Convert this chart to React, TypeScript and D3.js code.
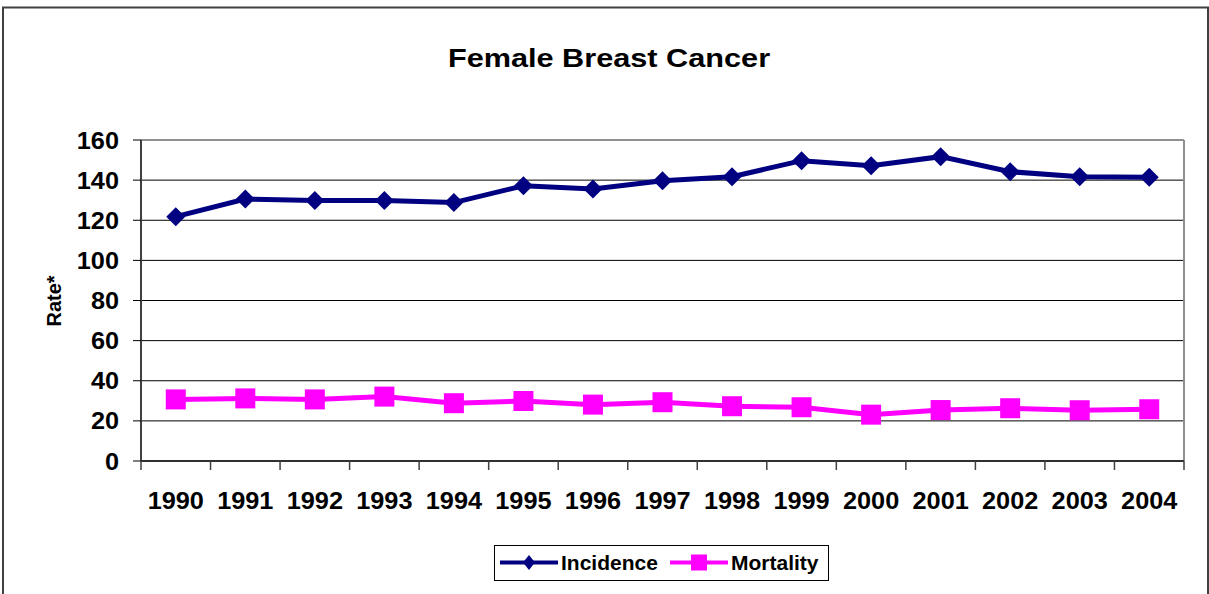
import React from "react";
import * as d3 from "d3";

const years = ["1990","1991","1992","1993","1994","1995","1996","1997","1998","1999","2000","2001","2002","2003","2004"];
const incidence = [121.8,130.6,129.8,129.8,128.8,137.2,135.6,139.7,141.7,149.7,147.2,151.7,144.2,141.7,141.4];
const mortality = [30.7,31.2,30.7,32.1,28.8,29.9,28.1,29.3,27.3,26.8,23.1,25.4,26.3,25.3,25.8];
const yTicks = [0,20,40,60,80,100,120,140,160];
const seriesNames = ["Incidence","Mortality"];
const title = "Female Breast Cancer";
const yLabel = "Rate*";

const FONT = "Arial, 'Liberation Sans', sans-serif";

function SText({ x, y, sx = 1, anchor = "start", size, children, rotate = 0 }: any) {
  return (
    <g transform={`translate(${x},${y}) rotate(${rotate}) scale(${sx},1)`}>
      <text x={0} y={0} textAnchor={anchor} fontFamily={FONT} fontWeight="bold" fontSize={size} fill="#000">
        {children}
      </text>
    </g>
  );
}

export default function App() {
  const L = 141, R = 1184, T = 140, B = 461;
  const x = d3.scaleBand<string>().domain(years).range([L, R]);
  const y = d3.scaleLinear().domain([0, 160]).range([B, T]);
  const cx = (yr: string) => (x(yr) as number) + x.bandwidth() / 2;
  const line = d3.line<number>().x((_, i) => cx(years[i])).y((v) => y(v));
  const boundaries = years.map((yr) => x(yr) as number).concat([R]);

  return (
    <svg width={1209} height={594} style={{ position: "absolute", left: 0, top: 0, background: "#fff" }}>
      <rect x={0} y={0} width={1209} height={594} fill="#fff" />
      <rect x={3} y={7.5} width={1205} height={600} fill="none" stroke="#404040" strokeWidth={2} />
      <SText x={609} y={67} anchor="middle" size={26} sx={1.18}>{title}</SText>

      {/* gridlines */}
      {yTicks.filter((t) => t > 0 && t < 160).map((t) => (
        <line key={t} x1={L} x2={R} y1={y(t)} y2={y(t)} stroke="#000" strokeWidth={1} />
      ))}
      {/* plot border */}
      <line x1={L} x2={R} y1={T} y2={T} stroke="#909090" strokeWidth={2} />
      <line x1={R} x2={R} y1={T} y2={B} stroke="#909090" strokeWidth={2} />
      <line x1={L} x2={L} y1={T} y2={B} stroke="#404040" strokeWidth={2} />
      <line x1={L} x2={R} y1={B} y2={B} stroke="#303030" strokeWidth={2} />

      {/* y ticks */}
      {yTicks.map((t) => (
        <g key={t}>
          <line x1={133} x2={L} y1={y(t)} y2={y(t)} stroke="#000" strokeWidth={1} />
          <SText x={119} y={y(t) + 8.5} anchor="end" size={23} sx={1.1}>{t}</SText>
        </g>
      ))}
      {/* x ticks */}
      {boundaries.map((bx, i) => (
        <line key={i} x1={bx} x2={bx} y1={B} y2={B + 9} stroke="#404040" strokeWidth={1.5} />
      ))}
      {years.map((yr) => (
        <SText key={yr} x={cx(yr)} y={509} anchor="middle" size={23} sx={1.1}>{yr}</SText>
      ))}
      <SText x={61} y={301} anchor="middle" size={20} sx={1} rotate={-90}>{yLabel}</SText>

      {/* series */}
      <path d={line(incidence) as string} fill="none" stroke="#000080" strokeWidth={5} />
      {incidence.map((v, i) => {
        const px = cx(years[i]), py = y(v);
        return <path key={i} d={`M${px},${py - 9.5}L${px + 9.5},${py}L${px},${py + 9.5}L${px - 9.5},${py}Z`} fill="#000080" />;
      })}
      <path d={line(mortality) as string} fill="none" stroke="#FF00FF" strokeWidth={5} />
      {mortality.map((v, i) => {
        const px = cx(years[i]), py = y(v);
        return <rect key={i} x={px - 10} y={py - 10} width={20} height={20} fill="#FF00FF" />;
      })}

      {/* legend */}
      <rect x={494.5} y={545.5} width={334} height={35} fill="#fff" stroke="#000" strokeWidth={1} />
      <line x1={500} x2={558} y1={562.5} y2={562.5} stroke="#000080" strokeWidth={4} />
      <path d={`M529,555L535,562.5L529,570L523,562.5Z`} fill="#000080" />
      <SText x={561} y={570} size={20} sx={1.05}>{seriesNames[0]}</SText>
      <line x1={670} x2={728} y1={562.5} y2={562.5} stroke="#FF00FF" strokeWidth={4} />
      <rect x={691} y={554.5} width={16} height={16} fill="#FF00FF" />
      <SText x={731} y={570} size={20} sx={1.05}>{seriesNames[1]}</SText>
    </svg>
  );
}
